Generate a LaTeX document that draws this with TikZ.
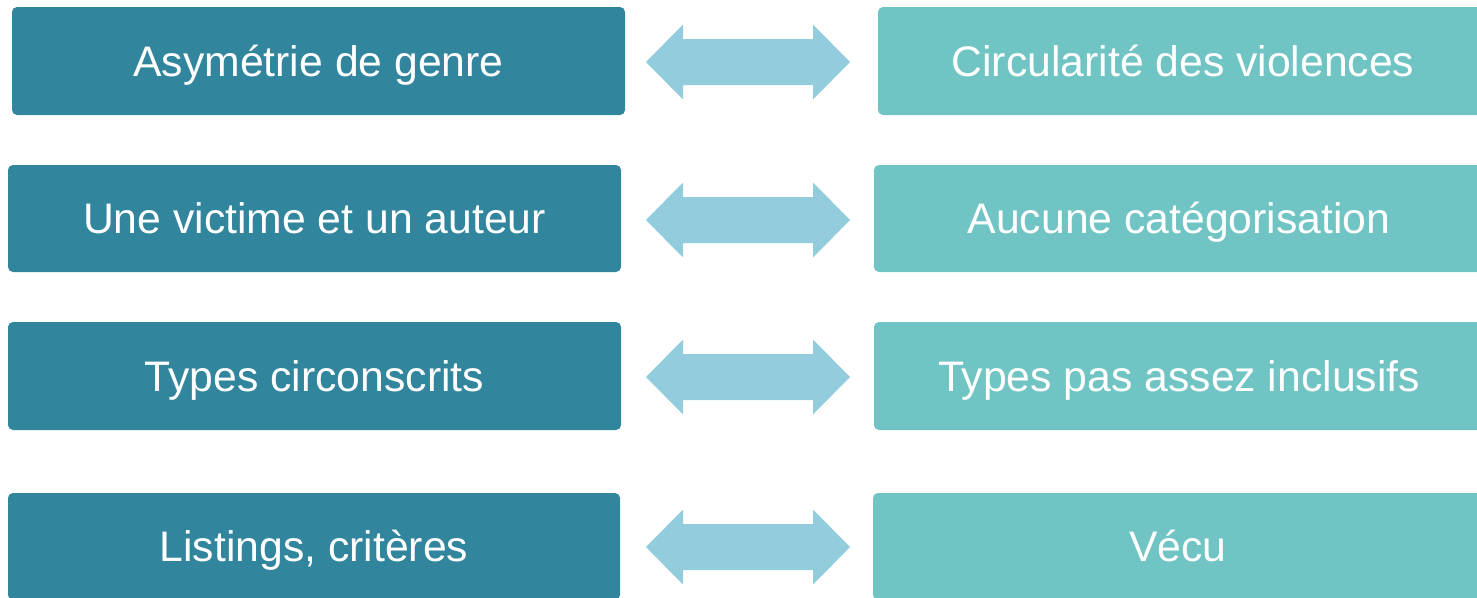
\documentclass[tikz,border=0pt]{standalone}
\usepackage{fontspec}
\setmainfont{Liberation Sans}
\usetikzlibrary{calc}
\definecolor{darkteal}{HTML}{31859C}
\definecolor{lightteal}{HTML}{71C4C4}
\definecolor{arrowblue}{HTML}{93CDDD}
\tikzset{
  box/.style={rounded corners=5pt, inner sep=0pt, text=white,
    font=\fontsize{42.7}{50}\selectfont, text height=30.6pt, text depth=0pt},
  leftbox/.style={box, fill=darkteal},
  rightbox/.style={box, fill=lightteal},
  arrowfill/.style={fill=arrowblue},
}
\newcommand\dblarrow[1]{%
  \begin{scope}[shift={(#1)}]
    \fill[arrowfill] (-102,0) -- (-65,-37.5) -- (-65,-23) -- (65,-23) -- (65,-37.5)
      -- (102,0) -- (65,37.5) -- (65,23) -- (-65,23) -- (-65,37.5) -- cycle;
  \end{scope}}
\begin{document}
\begin{tikzpicture}[x=1pt,y=-1pt]
\useasboundingbox (0,0) rectangle (1477,597);
\clip (0,0) rectangle (1477,597);
% left column
\node[leftbox, minimum width=613pt, minimum height=108pt] (l1) at (318.5,61) {Asymétrie de genre};
\node[leftbox, minimum width=613pt, minimum height=107pt] (l2) at (314.5,218.5) {Une victime et un auteur};
\node[leftbox, minimum width=613pt, minimum height=108pt] (l3) at (314.5,376) {Types circonscrits};
\node[leftbox, minimum width=612pt, minimum height=107pt] (l4) at (314,546.5) {Listings, critères};
% right column
\node[rightbox, minimum width=610pt, minimum height=108pt] (r1) at (1183,61) {Circularité des violences};
\node[rightbox, minimum width=610pt, minimum height=107pt] (r2) at (1179,218.5) {Aucune catégorisation};
\node[rightbox, minimum width=610pt, minimum height=108pt] (r3) at (1179,376) {Types pas assez inclusifs};
\node[rightbox, minimum width=610pt, minimum height=107pt] (r4) at (1178,546.5) {Vécu};
% double arrows
\coordinate (a1) at (748,62);
\coordinate (a2) at (748,220);
\coordinate (a3) at (748,377);
\coordinate (a4) at (748,547);
\dblarrow{a1}
\dblarrow{a2}
\dblarrow{a3}
\dblarrow{a4}
\end{tikzpicture}
\end{document}
